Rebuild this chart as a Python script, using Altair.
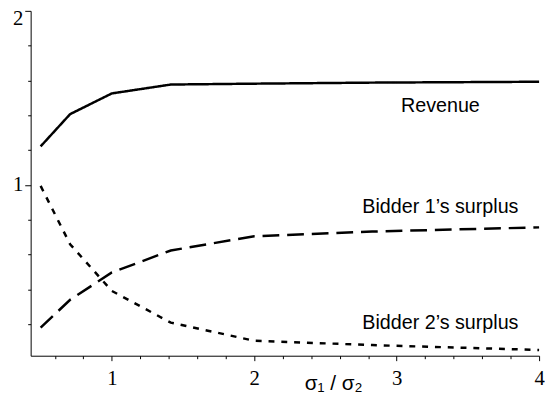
import altair as alt
import pandas as pd

# ratio sigma1/sigma2 at the vertices of the plotted curves
ratio = [0.5, 0.707, 1.0, 1.414, 2.0, 2.828, 4.0]
revenue = [1.222, 1.407, 1.526, 1.577, 1.582, 1.588, 1.593]
bidder1 = [0.181, 0.341, 0.498, 0.624, 0.706, 0.733, 0.757]
bidder2 = [0.995, 0.660, 0.392, 0.210, 0.106, 0.081, 0.053]

series_names = ["Revenue", "Bidder 1", "Bidder 2"]
label_texts = ["Revenue", "Bidder 1\u2019s surplus", "Bidder 2\u2019s surplus"]
label_x = [3.307, 3.307, 3.307]
label_y = [1.420, 0.837, 0.176]

x_ticks = [0.6, 0.8, 1.0, 1.2, 1.4, 1.6, 1.8, 2.0, 2.2, 2.4, 2.6, 2.8,
           3.0, 3.2, 3.4, 3.6, 3.8, 4.0]
y_ticks = [0.2, 0.4, 0.6, 0.8, 1.0, 1.2, 1.4, 1.6, 1.8, 2.0]

rows = []
for name, vals in zip(series_names, [revenue, bidder1, bidder2]):
    for i, (x, y) in enumerate(zip(ratio, vals)):
        rows.append({"series": name, "ratio": x, "value": y, "order": i})
df = pd.DataFrame(rows)

labels = pd.DataFrame({"text": label_texts, "x": label_x, "y": label_y})

xscale = alt.Scale(domain=[0.43, 4.0], nice=False, zero=False)
yscale = alt.Scale(domain=[0.02, 2.0], nice=False, zero=False)

major_test = "datum.value % 1 === 0"

x_axis = alt.Axis(
    values=x_ticks,
    title="\u03c3\u2081 / \u03c3\u2082",
    titleFont="Liberation Sans",
    titleFontSize=21,
    titleFontWeight="normal",
    titleColor="black",
    titleX=307,
    titleY=34,
    titleAlign="center",
    titleBaseline="alphabetic",
    labelExpr=f"{major_test} ? format(datum.value, 'd') : ''",
    labelFont="Liberation Serif",
    labelFontSize=21,
    labelColor="black",
    labelPadding=7,
    labelFlush=False,
    labelOverlap=False,
    labelBound=False,
    tickSize={"condition": {"test": major_test, "value": 5}, "value": 3},
    tickColor="black",
    domainColor="black",
    grid=False,
)

y_axis = alt.Axis(
    values=y_ticks,
    title=None,
    labelExpr=f"{major_test} ? format(datum.value, 'd') : ''",
    labelFont="Liberation Serif",
    labelFontSize=21,
    labelColor="black",
    labelPadding=2,
    labelFlush=False,
    labelOverlap=False,
    labelBound=False,
    labelOffset={"condition": {"test": "datum.value === 2", "value": 8}, "value": 0},
    tickSize={"condition": {"test": major_test, "value": 6}, "value": 3},
    tickColor="black",
    domainColor="black",
    grid=False,
)

lines = alt.Chart(df).mark_line(color="black", strokeWidth=2.5, strokeCap="butt").encode(
    x=alt.X("ratio:Q", scale=xscale, axis=x_axis),
    y=alt.Y("value:Q", scale=yscale, axis=y_axis),
    strokeDash=alt.StrokeDash(
        "series:N",
        scale=alt.Scale(domain=series_names, range=[[1, 0], [17, 8], [6, 7]]),
        legend=None,
    ),
    order="order:Q",
)

texts = alt.Chart(labels).mark_text(
    font="Liberation Sans", fontSize=20, color="black", align="center", baseline="alphabetic"
).encode(
    x=alt.X("x:Q", scale=xscale, axis=x_axis),
    y=alt.Y("y:Q", scale=yscale, axis=y_axis),
    text="text:N",
)

chart = alt.layer(lines, texts).properties(
    width=516,
    height=350,
    autosize=alt.AutoSizeParams(type="none"),
    padding={"left": 23, "top": 0, "right": 6, "bottom": 40},
    background="white",
).configure_view(stroke=None).configure_axis(labelOverlap=False)

chart.save("out.html", embed_options={"renderer": "svg", "actions": False})
